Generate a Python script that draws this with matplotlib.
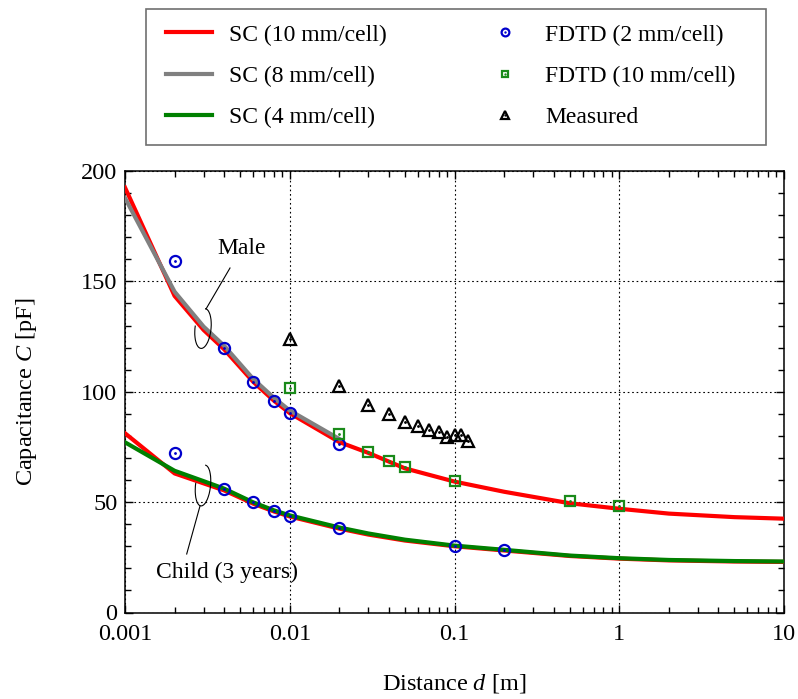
import matplotlib
matplotlib.use("Agg")
import matplotlib.pyplot as plt
from matplotlib.patches import Arc, Rectangle
from matplotlib.lines import Line2D
from matplotlib.ticker import MultipleLocator, LogLocator, FixedFormatter, FixedLocator

plt.rcParams['font.family'] = ['Liberation Serif', 'DejaVu Serif']
plt.rcParams['mathtext.fontset'] = 'custom'
plt.rcParams['mathtext.rm'] = 'Liberation Serif'
plt.rcParams['mathtext.it'] = 'Liberation Serif:italic'

# SC curves (sampled distances)
d_sc = [0.001, 0.002, 0.003, 0.004, 0.006, 0.008, 0.01, 0.02, 0.03, 0.05,
        0.1, 0.2, 0.5, 1, 2, 5, 10]
male_sc10 = [192.5, 143.4, 128.0, 119.2, 104.5, 96.0, 90.3, 77.2, 72.3, 65.3,
             59.3, 54.7, 49.5, 47.0, 44.8, 43.2, 42.5]
child_sc10 = [81.2, 63.0, 58.5, 55.3, 49.3, 45.8, 43.5, 38.0, 35.3, 32.6,
              30.0, 28.1, 25.6, 24.4, 23.6, 23.1, 22.9]
child_sc4 = [77.1, 64.2, 59.5, 56.1, 49.9, 46.3, 44.0, 38.5, 35.8, 33.0,
             30.3, 28.4, 25.8, 24.6, 23.8, 23.3, 23.1]
d_sc8 = [0.001, 0.002, 0.003, 0.004, 0.006, 0.008, 0.01, 0.02]
male_sc8 = [187.8, 145.3, 129.5, 120.8, 105.8, 97.3, 91.5, 78.6]

# FDTD (2 mm/cell)
d_fd2_male = [0.002, 0.004, 0.006, 0.008, 0.01, 0.02]
c_fd2_male = [159.4, 119.7, 104.3, 95.8, 90.2, 76.5]
d_fd2_child = [0.002, 0.004, 0.006, 0.008, 0.01, 0.02, 0.1, 0.2]
c_fd2_child = [72.1, 56.1, 49.9, 46.1, 43.9, 38.3, 30.3, 28.3]

# FDTD (10 mm/cell)
d_fd10 = [0.01, 0.02, 0.03, 0.04, 0.05, 0.1, 0.5, 1]
c_fd10 = [101.7, 80.7, 72.9, 68.6, 65.8, 59.4, 50.4, 48.2]

# Measured
d_meas = [0.01, 0.02, 0.03, 0.04, 0.05, 0.06, 0.07, 0.08, 0.09, 0.1, 0.11, 0.12]
c_meas = [123.9, 102.6, 94.0, 90.0, 86.3, 84.7, 82.5, 81.6, 79.6, 80.6, 80.2, 77.6]

RED = '#ff0000'
GRAY = '#808080'
GREEN = '#008000'
BLUE = '#0000cc'
SQG = '#1a8a1a'

fig = plt.figure(figsize=(7.98, 6.99), dpi=100)
ax = fig.add_axes([125 / 798, 1 - 612.5 / 699, 659 / 798, 441.5 / 699])

h_r, = ax.plot(d_sc, male_sc10, color=RED, lw=3, zorder=3)
ax.plot(d_sc, child_sc10, color=RED, lw=3, zorder=3)
h_g, = ax.plot(d_sc8, male_sc8, color=GRAY, lw=3, zorder=4)
h_gr, = ax.plot(d_sc, child_sc4, color=GREEN, lw=3, zorder=4)

mk = dict(linestyle='none', markerfacecolor='none', zorder=6)
dot = dict(linestyle='none', marker='.', markersize=2, zorder=7)
h_c, = ax.plot(d_fd2_male, c_fd2_male, marker='o', ms=8, mew=1.6, color=BLUE, **mk)
ax.plot(d_fd2_child, c_fd2_child, marker='o', ms=8, mew=1.6, color=BLUE, **mk)
h_cd, = ax.plot(d_fd2_male + d_fd2_child, c_fd2_male + c_fd2_child, color=BLUE, **dot)
h_s, = ax.plot(d_fd10, c_fd10, marker='s', ms=7, mew=1.6, color=SQG, **mk)
h_sd, = ax.plot(d_fd10, c_fd10, color=SQG, **dot)
h_t, = ax.plot(d_meas, c_meas, marker='^', ms=9, mew=1.6, color='black', **mk)
h_td, = ax.plot(d_meas, c_meas, color='black', **dot)

ax.set_xscale('log')
ax.set_xlim(0.001, 10)
ax.set_ylim(0, 200)
ax.xaxis.set_major_locator(FixedLocator([0.001, 0.01, 0.1, 1, 10]))
ax.xaxis.set_major_formatter(FixedFormatter(['0.001', '0.01', '0.1', '1', '10']))
ax.xaxis.set_minor_locator(LogLocator(base=10, subs=range(2, 10)))
ax.yaxis.set_major_locator(MultipleLocator(50))
ax.yaxis.set_minor_locator(MultipleLocator(10))
ax.tick_params(which='both', direction='in', top=True, right=True,
               labelsize=17.5, width=1)
ax.tick_params(which='major', length=6)
ax.tick_params(which='minor', length=4.5)
ax.tick_params(axis='x', which='major', pad=8)
ax.tick_params(axis='y', which='major', pad=5.5)
ax.xaxis.set_minor_formatter(FixedFormatter([]))
for s in ax.spines.values():
    s.set_linewidth(1.1)
ax.grid(True, which='major', color='black', linestyle=(0, (1.5, 2.5)), linewidth=0.8)

ax.set_xlabel(r'Distance $d$ [m]', fontsize=17.5, labelpad=20)
ax.set_ylabel(r'Capacitance $C$ [pF]', fontsize=17.5, labelpad=30)

# annotations (pixel positions -> inches)
def px(x, y):
    return (x / 100, (699 - y) / 100)

tr = fig.dpi_scale_trans
fig.add_artist(Arc(px(203, 328.5), 0.16, 0.40, angle=-6, theta1=165, theta2=90,
                   transform=tr, color='black', lw=0.8))
fig.add_artist(Line2D([206 / 100, 230 / 100], [(699 - 309) / 100, (699 - 268) / 100],
                      transform=tr, color='black', lw=0.8))
fig.text(241.5 / 798, 1 - 249 / 699, 'Male', fontsize=17, ha='center', va='center')

fig.add_artist(Arc(px(203, 485.5), 0.15, 0.41, angle=-6, theta1=165, theta2=90,
                   transform=tr, color='black', lw=0.8))
fig.add_artist(Line2D([200 / 100, 186.7 / 100], [(699 - 506) / 100, (699 - 554) / 100],
                      transform=tr, color='black', lw=0.8))
fig.text(226.5 / 798, 1 - 572 / 699, 'Child (3 years)', fontsize=17, ha='center', va='center')

# legend frame drawn separately so its size matches
fig.add_artist(Rectangle((146 / 798, 1 - 145 / 699), 620 / 798, 136 / 699,
                         transform=fig.transFigure, facecolor='white',
                         edgecolor='#707070', lw=1.2, zorder=0))

handles = [h_r, h_g, h_gr, (h_c, h_cd), (h_s, h_sd), (h_t, h_td)]
labels = ['SC (10 mm/cell)', 'SC (8 mm/cell)', 'SC (4 mm/cell)',
          'FDTD (2 mm/cell)', 'FDTD (10 mm/cell)', 'Measured']
leg = fig.legend(handles, labels, loc='upper left', bbox_to_anchor=(152 / 798, 1 - 10 / 699),
                 ncol=2, fontsize=17, frameon=False,
                 borderpad=0.6, labelspacing=0.83,
                 handlelength=1.95, handletextpad=0.72, columnspacing=4.03,
                 markerscale=0.7, borderaxespad=0)

fig.savefig('out.png', dpi=100)
